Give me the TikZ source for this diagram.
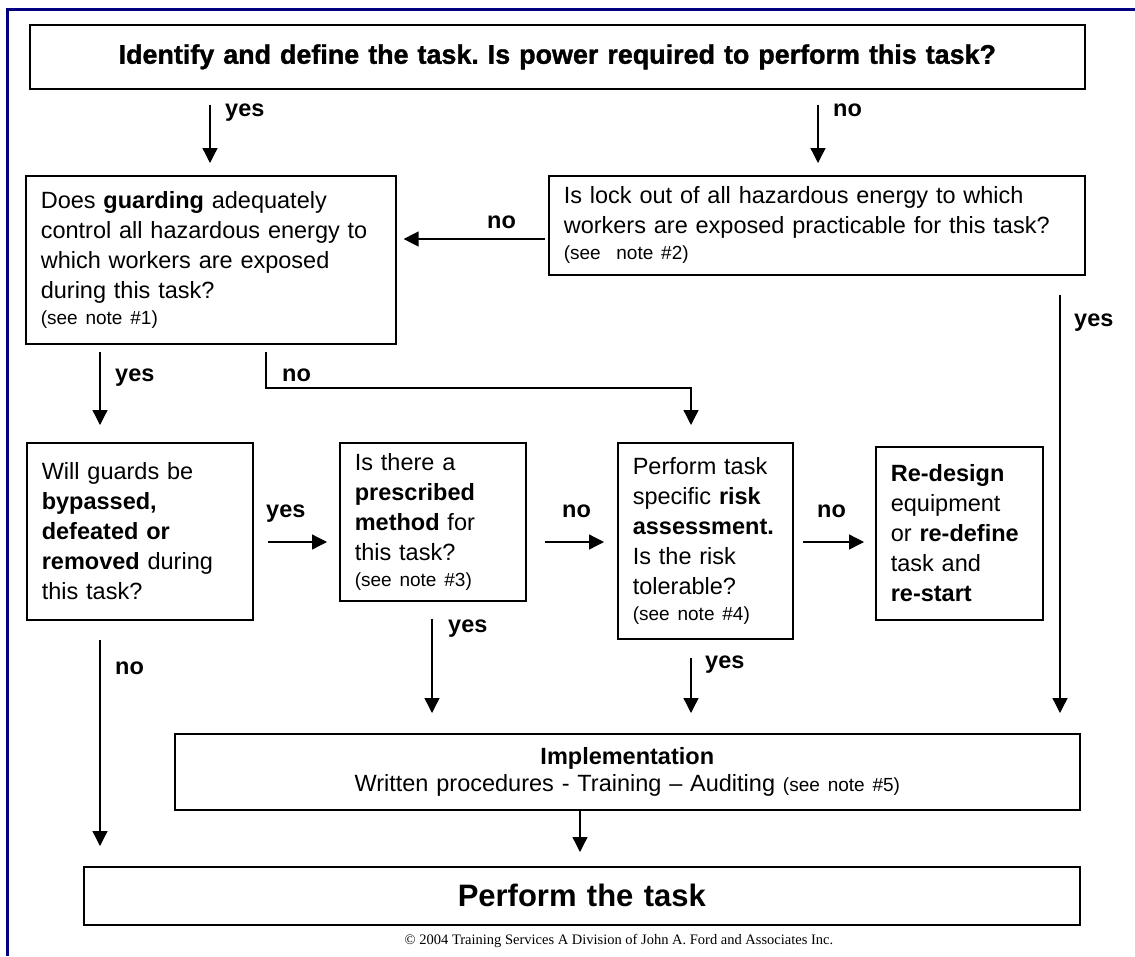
\documentclass[tikz,border=0pt]{standalone}
\usepackage{fontspec}
\setmainfont{Liberation Sans}
\newfontfamily\timesfont{Liberation Serif}
\newfontfamily\heavyfont{Liberation Sans Bold}[FakeBold=1.2]
\usetikzlibrary{arrows.meta,calc}
\definecolor{navyframe}{RGB}{0,0,128}
\hyphenpenalty=10000
\exhyphenpenalty=10000
\frenchspacing
\begin{document}
\begin{tikzpicture}[x=1pt,y=-1pt,
  box/.style={draw, line width=1.6pt, inner xsep=15pt, inner ysep=0pt, anchor=north west,
    align=left, font=\fontsize{23.5}{30}\selectfont},
  arr/.style={line width=1.3pt, -{Triangle[length=15pt,width=15pt]}},
  lab/.style={anchor=base west, inner sep=0pt, font=\fontsize{23.5}{28}\selectfont\bfseries}]
\useasboundingbox (0,0) rectangle (1135,956);
\fill[white] (0,0) rectangle (1135,956);
\draw[navyframe, line width=3pt] (7,956) -- (7,9.5) -- (1135,9.5);

% boxes
\node[box, align=center, text width=1025pt, minimum height=64pt,
  font=\heavyfont\fontsize{26.9}{30}\selectfont] (top) at (29,24)
  {Identify and define the task. Is power required to perform this task?};
\node[box, text width=340pt, minimum height=168pt] (guard) at (25,175)
  {Does \textbf{guarding} adequately\\control all hazardous energy to\\which workers are exposed\\during this task?\\[-4pt]{\fontsize{19}{24}\selectfont(see note \#1)}};
\node[box, text width=506pt, minimum height=99pt] (lock) at (548,175)
  {Is lock out of all hazardous energy to which\\workers are exposed practicable for this task?\\[-4pt]{\fontsize{19}{24}\selectfont(see\ \ note \#2)}};
\node[box, text width=196pt, minimum height=177pt] (guards) at (26,442)
  {Will guards be\\\textbf{bypassed,}\\\textbf{defeated or}\\\textbf{removed} during\\this task?};
\node[box, text width=156pt, minimum height=158pt] (presc) at (339,442)
  {Is there a\\\textbf{prescribed}\\\textbf{method} for\\this task?\\[-4pt]{\fontsize{19}{24}\selectfont(see note \#3)}};
\node[box, text width=145pt, minimum height=196pt] (risk) at (617,442)
  {Perform task\\specific \textbf{risk}\\\textbf{assessment.}\\Is the risk\\tolerable?\\[-4pt]{\fontsize{19}{24}\selectfont(see note \#4)}};
\node[box, text width=137pt, minimum height=173pt] (redes) at (875,446)
  {\textbf{Re-design}\\equipment\\or \textbf{re-define}\\task and\\\textbf{re-start}};
\node[box, align=center, text width=875pt, minimum height=76pt] (impl) at (174,733)
  {\textbf{Implementation}\\[-3pt]Written procedures - Training – Auditing {\fontsize{19}{24}\selectfont(see note \#5)}};
\node[box, align=center, text width=966pt, minimum height=58pt,
  font=\fontsize{31}{36}\selectfont\bfseries] (perform) at (83,866) {Perform the task};

% connectors
\coordinate (b1) at (266,388);
\coordinate (b2) at (691,388);
\draw[arr] ($(top.south -| 210,0)+(0,15)$) -- ($(guard.north -| 210,0)+(0,-12)$);
\draw[arr] ($(top.south -| 818,0)+(0,15)$) -- ($(lock.north -| 818,0)+(0,-12)$);
\draw[arr] ($(lock.west |- 0,239)+(-3,0)$) -- ($(guard.east |- 0,239)+(7,0)$);
\draw[arr] ($(guard.south -| 100,0)+(0,7)$) -- ($(guards.north -| 100,0)+(0,-17)$);
\draw[arr] ($(guard.south -| b1)+(0,7)$) -- (b1) -- (b2) -- ($(risk.north -| b2)+(0,-17)$);
\draw[arr] ($(lock.south -| 1060,0)+(0,19)$) -- ($(impl.north -| 1060,0)+(0,-20)$);
\draw[arr] ($(guards.east |- 0,542)+(14,0)$) -- ($(presc.west |- 0,542)+(-12,0)$);
\draw[arr] ($(presc.east |- 0,542)+(18,0)$) -- ($(risk.west |- 0,542)+(-13,0)$);
\draw[arr] ($(risk.east |- 0,542)+(9,0)$) -- ($(redes.west |- 0,542)+(-11,0)$);
\draw[arr] ($(presc.south -| 432,0)+(0,17)$) -- ($(impl.north -| 432,0)+(0,-20)$);
\draw[arr] ($(risk.south -| 691,0)+(0,18)$) -- ($(impl.north -| 691,0)+(0,-20)$);
\draw[arr] ($(guards.south -| 100,0)+(0,19)$) -- ($(perform.north -| 100,0)+(0,-20)$);
\draw[arr] (impl.south -| 580,0) -- ($(perform.north -| 580,0)+(0,-14)$);

% labels
\node[lab] (l1) at (225,116) {yes};
\node[lab] (l2) at (833,116) {no};
\node[lab] (l3) at (487,228) {no};
\node[lab] (l4) at (115,381) {yes};
\node[lab] (l5) at (282,381) {no};
\node[lab] (l6) at (1074,326) {yes};
\node[lab] (l7) at (266,517) {yes};
\node[lab] (l8) at (562,517) {no};
\node[lab] (l9) at (817,517) {no};
\node[lab] (l10) at (448,632) {yes};
\node[lab] (l11) at (705,668) {yes};
\node[lab] (l12) at (115,674) {no};

\node[anchor=base, inner sep=0pt, font=\timesfont\fontsize{14.5}{16}\selectfont] (copy) at (619,944)
  {© 2004 Training Services A Division of John A. Ford and Associates Inc.};
\end{tikzpicture}
\end{document}
